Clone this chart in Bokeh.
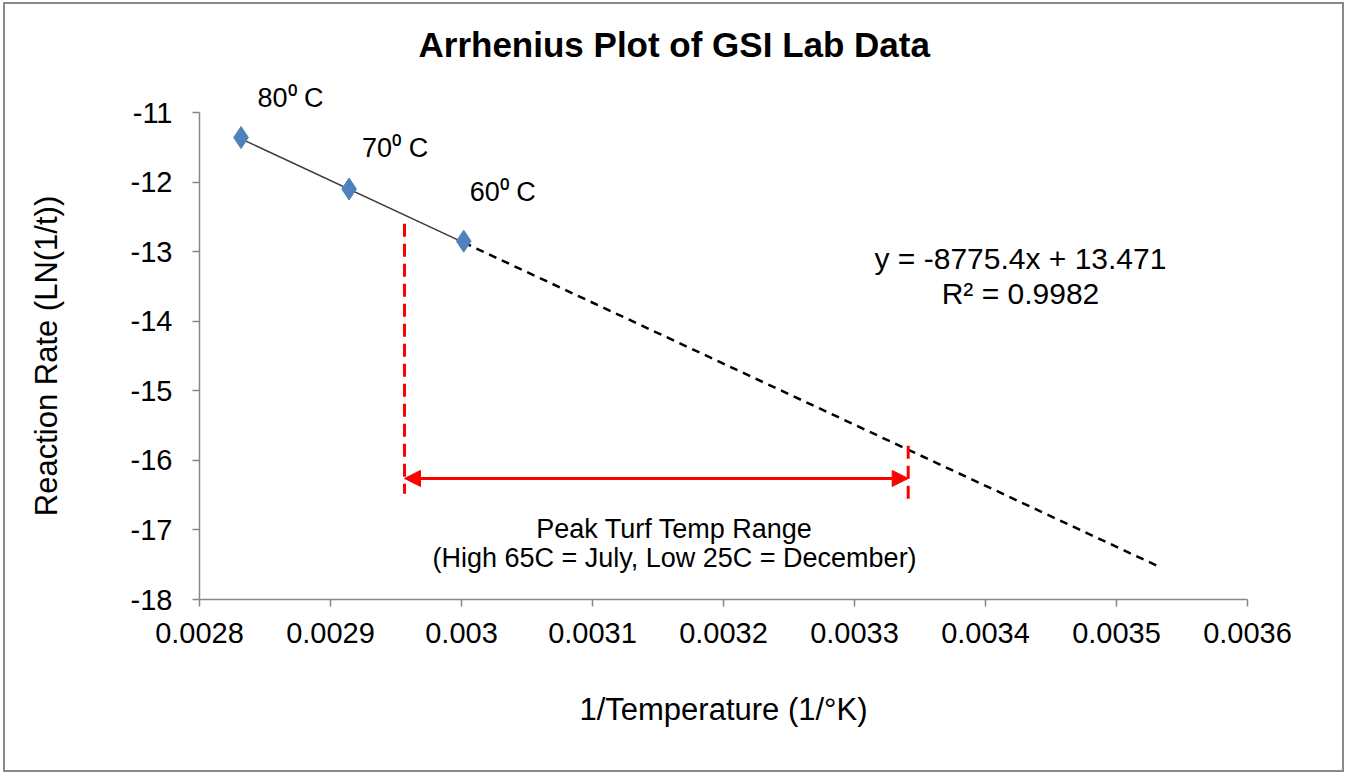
from bokeh.plotting import figure
from bokeh.models import (ColumnDataSource, FixedTicker, Arrow, NormalHead, Range1d,
                          LabelSet, Title)
from bokeh.core.properties import value
from bokeh.embed import file_html
from bokeh.resources import INLINE

# ---- data ----
temp_labels = ["80\u2070 C", "70\u2070 C", "60\u2070 C"]
inv_temp = [0.0028317, 0.0029142, 0.0030017]        # 1/K
ln_rate = [-11.36, -12.10, -12.85]                   # LN(1/t)

slope = -8775.4
intercept = 13.471
trend_end_x = 0.0035317                              # forecast end (10 C)

peak_x = [0.0029565, 0.003341]                       # 65 C and 25 C markers
peak_y_top = [-12.6, -15.79]
peak_y_bottom = [-16.48, -16.65]
peak_arrow_y = -16.26

x_ticks = [0.0028, 0.0029, 0.003, 0.0031, 0.0032, 0.0033, 0.0034, 0.0035, 0.0036]
x_tick_labels = ["0.0028", "0.0029", "0.003", "0.0031", "0.0032", "0.0033", "0.0034", "0.0035", "0.0036"]
y_ticks = [-18, -17, -16, -15, -14, -13, -12, -11]
y_tick_labels = ["-18", "-17", "-16", "-15", "-14", "-13", "-12", "-11"]

title_text = "Arrhenius  Plot of GSI Lab Data"
equation_lines = ["y = -8775.4x + 13.471", "R\u00b2 = 0.9982"]
peak_lines = ["Peak Turf Temp Range", "(High 65C = July, Low 25C = December)"]

FONT = "Liberation Sans"

p = figure(width=1341, height=770, output_backend="svg", toolbar_location=None, title=None,
           x_range=Range1d(0.0028, 0.0036), y_range=Range1d(-18, -11),
           min_border_left=194, min_border_right=99, min_border_top=108, min_border_bottom=175)
p.styles = {"border": "2px solid #8a8a8a", "margin": "2px 0px 0px 3px"}

p.grid.visible = False
p.outline_line_color = None
p.background_fill_color = "white"
p.border_fill_color = "white"

for ax in (p.xaxis[0], p.yaxis[0]):
    ax.axis_line_color = "#878787"
    ax.axis_line_width = 1.5
    ax.major_tick_line_color = "#878787"
    ax.major_tick_line_width = 1.5
    ax.major_tick_out = 7
    ax.major_tick_in = 0
    ax.minor_tick_line_color = None
    ax.major_label_text_font = FONT
    ax.major_label_text_font_size = "29px"
    ax.major_label_text_color = "black"
    ax.axis_label_text_font = FONT
    ax.axis_label_text_font_size = "31px"
    ax.axis_label_text_font_style = "normal"
    ax.axis_label_text_color = "black"

p.xaxis.ticker = FixedTicker(ticks=x_ticks)
p.xaxis.major_label_overrides = {t: s for t, s in zip(x_ticks, x_tick_labels)}
p.yaxis.ticker = FixedTicker(ticks=y_ticks)
p.yaxis.major_label_overrides = {t: s for t, s in zip(y_ticks, y_tick_labels)}
p.xaxis.major_label_standoff = 16
p.yaxis.major_label_standoff = 20
p.xaxis.axis_label = "1/Temperature (1/\u00b0K)"
p.yaxis.axis_label = "Reaction Rate (LN(1/t))"
p.xaxis.axis_label_standoff = 46
p.yaxis.axis_label_standoff = 64

# top label of the hottest point sits above the frame -> placed in the top panel
p.add_layout(Title(text=temp_labels[0], align="left", offset=58, standoff=0,
                   text_font=FONT, text_font_size="27px", text_font_style="normal",
                   text_color="black"), "above")
# chart title
p.add_layout(Title(text=title_text, align="left", offset=219, standoff=33,
                   text_font=FONT, text_font_size="35px", text_font_style="bold",
                   text_color="black"), "above")

# trend line: solid over data, dashed forecast
x0, x1 = inv_temp[0], inv_temp[-1]
p.line([x0, x1], [slope * x0 + intercept, slope * x1 + intercept],
       line_color="#3a3a3a", line_width=1.5)
p.line([x1, trend_end_x], [slope * x1 + intercept, slope * trend_end_x + intercept],
       line_color="black", line_width=2.5, line_dash="8 6")

# data points
src = ColumnDataSource(dict(x=inv_temp[1:], y=ln_rate[1:], label=temp_labels[1:],
                            dx=[13, 6], dy=[32, 40]))
p.scatter(inv_temp, ln_rate, marker="diamond", size=22,
          fill_color="#4f81bd", line_color="#4f81bd")
p.add_layout(LabelSet(x="x", y="y", text="label", source=src, x_offset="dx", y_offset="dy",
                      text_font=value(FONT), text_font_size=value("27px"), text_color="black",
                      text_baseline="alphabetic", text_align="left"))

# peak range markers
p.segment(x0=peak_x, y0=peak_y_top, x1=peak_x, y1=peak_y_bottom,
          line_color="#ff0000", line_width=3, line_dash="13 7")
p.add_layout(Arrow(x_start=peak_x[0], y_start=peak_arrow_y, x_end=peak_x[1], y_end=peak_arrow_y,
                   line_color="#ff0000", line_width=3,
                   start=NormalHead(size=16, fill_color="#ff0000", line_color="#ff0000"),
                   end=NormalHead(size=16, fill_color="#ff0000", line_color="#ff0000")))

# annotations
p.text(x=[0.0034267, 0.0034267], y=[-13.10, -13.60], text=equation_lines,
       text_font=value(FONT), text_font_size="30px", text_color="black",
       text_align="center", text_baseline="alphabetic")
p.text(x=[0.0031626, 0.0031626], y=[-16.98, -17.41], text=peak_lines,
       text_font=value(FONT), text_font_size="27px", text_color="black",
       text_align="center", text_baseline="alphabetic")

open("out.html", "w").write(file_html(p, INLINE))
